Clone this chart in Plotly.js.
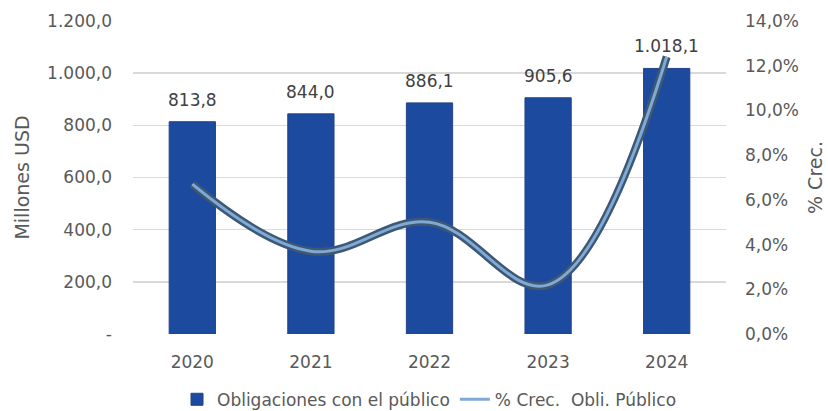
<!DOCTYPE html>
<html><head><meta charset="utf-8">
<script src="https://cdn.plot.ly/plotly-3.0.1.min.js"></script>
<style>html,body{margin:0;padding:0;background:#fff}#c{width:828px;height:411px}</style>
</head><body><div id="c"></div>
<script>
const years = ['2020','2021','2022','2023','2024'];
const obligaciones = [813.8, 844.0, 886.1, 905.6, 1018.1];
const crecimiento = [6.7, 3.7, 5.0, 2.2, 12.4];
const leftTickVals = [0, 200, 400, 600, 800, 1000, 1200];
const leftTickText = ['-', '200,0', '400,0', '600,0', '800,0', '1.000,0', '1.200,0'];
const rightTickVals = [0, 2, 4, 6, 8, 10, 12, 14];
const rightTickText = ['0,0%', '2,0%', '4,0%', '6,0%', '8,0%', '10,0%', '12,0%', '14,0%'];
const barLabels = ['813,8', '844,0', '886,1', '905,6', '1.018,1'];

const fam = 'DejaVu Sans, sans-serif';
const grey = '#595959';

const traces = [
  {type: 'bar', x: years, y: obligaciones, name: 'Obligaciones con el público',
   marker: {color: '#1b4a9e', line: {color: '#25408a', width: 1}}, hoverinfo: 'skip'},
  {type: 'scatter', mode: 'lines', x: years, y: crecimiento, yaxis: 'y2', showlegend: false,
   line: {color: '#3e5874', width: 8, shape: 'spline', smoothing: 1.1}, hoverinfo: 'skip'},
  {type: 'scatter', mode: 'lines', x: years, y: crecimiento, yaxis: 'y2', name: '% Crec.  Obli. Público',
   line: {color: '#7fa9d6', width: 3, shape: 'spline', smoothing: 1.1}, hoverinfo: 'skip'}
];

// annotation x given as category index on the category axis
const annotations = years.map((yr, i) => ({
  x: i, y: obligaciones[i], xref: 'x', yref: 'y', text: barLabels[i], showarrow: false,
  yanchor: 'bottom', yshift: 10, font: {family: fam, size: 17, color: '#404040'}
}));

const layout = {
  width: 828, height: 411,
  margin: {l: 133, r: 102, t: 21, b: 77, autoexpand: false},
  paper_bgcolor: '#fff', plot_bgcolor: '#fff',
  separators: ',.',
  font: {family: fam, size: 17, color: grey},
  bargap: 0.61,
  showlegend: true,
  annotations: annotations,
  legend: {orientation: 'h', x: 0.5, xanchor: 'center', y: -0.21, yanchor: 'middle',
           font: {family: fam, size: 17, color: grey}, traceorder: 'normal'},
  xaxis: {type: 'category', categoryarray: years, categoryorder: 'array', range: [-0.5, years.length - 0.5],
          showgrid: false, zeroline: false, showline: false,
          ticks: '', ticklabelstandoff: 16, tickfont: {family: fam, size: 17, color: grey}},
  yaxis: {range: [0, 1200], tickvals: leftTickVals, ticktext: leftTickText,
          showgrid: true, gridcolor: '#d9d9d9', gridwidth: 1.5, zeroline: false, showline: false,
          ticks: '', ticklabelstandoff: 20, tickfont: {family: fam, size: 17, color: grey},
          title: {text: 'Millones USD', font: {family: fam, size: 19, color: grey}, standoff: 12}},
  yaxis2: {range: [0, 14], overlaying: 'y', side: 'right', tickvals: rightTickVals, ticktext: rightTickText,
           showgrid: false, zeroline: false, showline: false,
           ticks: '', ticklabelstandoff: 18, tickfont: {family: fam, size: 17, color: grey},
           title: {text: '% Crec.', font: {family: fam, size: 19, color: grey}, standoff: 10}}
};

Plotly.newPlot('c', traces, layout, {displayModeBar: false, staticPlot: true});
</script></body></html>
